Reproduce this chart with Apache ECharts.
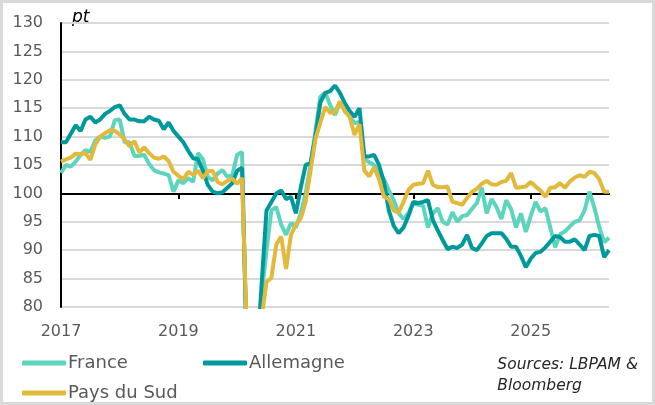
<!DOCTYPE html>
<html>
<head>
<meta charset="utf-8">
<script src="https://cdn.jsdelivr.net/npm/echarts@6/dist/echarts.min.js"></script>
<style>
  html, body { margin: 0; padding: 0; background: #fff; }
  #chart { width: 655px; height: 405px; }
</style>
</head>
<body>
<div id="chart"></div>
<script>
// monthly points, 2017-01 .. 2026-05
const months = []
for (let y = 2017; y <= 2026; y++) {
  for (let m = 1; m <= 12; m++) {
    if (y === 2026 && m > 5) break
    months.push(y + '-' + String(m).padStart(2, '0'))
  }
}

const france = [
  103.6, 105, 104.7, 105.6, 106.8, 107.6, 107.3, 109.3, 110, 109.8, 110, 112.9,
  113, 109, 109, 106.6, 106.6, 106.8, 105.2, 104.1, 103.7, 103.5, 103.2, 100.3,
  102.3, 101.8, 102.7, 102, 107.1, 106, 102.9, 102.3, 103.5, 104.1, 102.9, 103.2,
  106.8, 107.3, 70, 60, 70, 82, 90, 97, 97.6, 94.5, 92.7, 94.8,
  94, 96.5, 100, 105, 111, 117, 117.7, 115.6, 113.8, 116.1, 114.5, 113.5,
  112.4, 112.6, 106, 105.5, 105, 103.5, 102.5, 100.6, 98.8, 96.5, 95.5, 96.5,
  98.3, 98, 97.8, 94, 96.5, 97.4, 95, 94.5, 96.7, 95, 96, 96.2,
  97.3, 98.3, 101, 96.5, 99, 97.6, 95.5, 98.8, 97.2, 94, 96.5, 93.2,
  96, 98.5, 96.8, 97.4, 94, 90.5, 92.8, 93.3, 94.2, 95, 95.3, 97,
  100.3, 97.5, 94.1, 91.4, 92.2
]

const allemagne = [
  109, 109, 110.5, 112, 111, 113, 113.5, 112.5, 113, 114, 114.5, 115.2,
  115.5, 114, 113, 113, 112.7, 112.7, 113.5, 113, 112.8, 111.3, 112.5, 111,
  110, 109, 107.5, 106.2, 106, 104, 101.5, 100.3, 100, 100.2, 101, 101.8,
  104, 104.5, 72, 60, 70, 84, 97, 98.5, 100, 100.5, 99, 99.4,
  96.5, 101, 105, 105.3, 110, 116, 117.7, 118, 119, 117.7, 115.9, 114.5,
  113.5, 115, 106.5, 106.5, 106.8, 105, 102, 97, 94.3, 93, 94, 96,
  98.5, 98.3, 98.5, 98.8, 95.3, 93.5, 91.8, 90.2, 90.6, 90.4, 91, 92.7,
  90.4, 90, 91.2, 92.5, 93, 93, 93, 92, 90.6, 90.6, 89, 87,
  88.5, 89.5, 89.7, 90.5, 91.5, 92.5, 92.3, 91.5, 91.5, 91.9, 91, 90,
  92.5, 92.7, 92.5, 88.8, 90
]

const paysDuSud = [
  105.6, 106, 106.3, 107, 106.9, 107.1, 105.9, 108.6, 110, 110.6, 111.1, 111,
  110.4, 109.5, 108.3, 109.2, 107.2, 108.1, 107.1, 106.3, 106.1, 106.5, 105.7, 103.8,
  103.1, 102.5, 103.8, 103.3, 104, 102.7, 103.9, 104, 102, 101.6, 102.2, 102.6,
  101.7, 102.7, 75, 55, 70, 78, 84.4, 85.1, 91, 92.4, 86.7, 92.7,
  94.5, 95.6, 98.5, 104, 109.5, 112.5, 115.2, 114.2, 114.3, 116.2, 114.5, 113.5,
  110.3, 112.2, 104, 103, 104.6, 102.5, 99.4, 99, 97, 96.6, 98.5, 100.6,
  101.5, 101.7, 101.8, 104, 101.5, 101.1, 101.1, 101.2, 98.5, 98.3, 98, 99.2,
  100.3, 100.8, 101.7, 102.2, 101.6, 101.5, 102, 102.2, 103.6, 101, 101.1, 101.2,
  102, 101.2, 100.5, 99.4, 101, 101.1, 101.8, 101, 102.1, 102.8, 103.2, 102.9,
  103.8, 103.6, 102.5, 100.3, 100.3
]

const yearLabels = ['2017', '2019', '2021', '2023', '2025']

const FONT = 'DejaVu Sans'
const GREY_TEXT = '#595959'

const chart = echarts.init(document.getElementById('chart'))

const legendBase = {
  icon: 'roundRect',
  itemWidth: 44,
  itemHeight: 5,
  textStyle: { fontFamily: FONT, fontSize: 18, color: GREY_TEXT, padding: [0, 0, 0, -3] },
  selectedMode: false
}

chart.setOption({
  animation: false,
  backgroundColor: '#fff',
  grid: [
    { left: 61, right: 46, top: 23, bottom: 98 },
    // helper grid: its x axis line sits on the 100 level
    { left: 61, right: 46, top: 23, height: 171 }
  ],
  legend: [
    Object.assign({ data: ['France'], left: 17, top: 349 }, legendBase),
    Object.assign({ data: ['Allemagne'], left: 198, top: 349 }, legendBase),
    Object.assign({ data: ['Pays du Sud'], left: 17, top: 379 }, legendBase)
  ],
  xAxis: [
    {
      type: 'category',
      gridIndex: 0,
      data: months,
      boundaryGap: false,
      axisLine: { show: false },
      axisTick: { show: false },
      splitLine: { show: false },
      axisLabel: {
        interval: 23,
        margin: 17,
        fontFamily: FONT,
        fontSize: 16,
        color: GREY_TEXT,
        formatter: v => yearLabels.includes(v.slice(0, 4)) ? v.slice(0, 4) : ''
      }
    },
    {
      type: 'category',
      gridIndex: 1,
      data: months,
      boundaryGap: false,
      axisLine: { show: true, lineStyle: { color: '#000', width: 2 } },
      axisTick: { show: true, interval: 23, length: 5, lineStyle: { color: '#000', width: 2 } },
      axisLabel: { show: false },
      splitLine: { show: false }
    }
  ],
  yAxis: [
    {
      type: 'value',
      gridIndex: 0,
      min: 80,
      max: 130,
      interval: 5,
      axisLine: { show: true, lineStyle: { color: '#000', width: 2 } },
      axisTick: { show: false },
      axisLabel: { margin: 18, fontFamily: FONT, fontSize: 16, color: GREY_TEXT },
      splitLine: { lineStyle: { color: '#d9d9d9', width: 2 } }
    },
    { type: 'value', gridIndex: 1, show: false, min: 0, max: 1 }
  ],
  series: [
    {
      name: 'France', type: 'line', data: france,
      xAxisIndex: 0, yAxisIndex: 0,
      showSymbol: false, symbol: 'none',
      color: '#5dd5bd',
      lineStyle: { width: 4, color: '#5dd5bd' }
    },
    {
      name: 'Allemagne', type: 'line', data: allemagne,
      xAxisIndex: 0, yAxisIndex: 0,
      showSymbol: false, symbol: 'none',
      color: '#00999b',
      lineStyle: { width: 4, color: '#00999b' }
    },
    {
      name: 'Pays du Sud', type: 'line', data: paysDuSud,
      xAxisIndex: 0, yAxisIndex: 0,
      showSymbol: false, symbol: 'none',
      color: '#e2b93b',
      lineStyle: { width: 4, color: '#e2b93b' }
    }
  ],
  graphic: [
    {
      type: 'rect',
      shape: { x: 1.5, y: 1.5, width: 652, height: 402 },
      style: { fill: 'none', stroke: '#d9d9d9', lineWidth: 3 },
      silent: true
    },
    {
      type: 'text', left: 72, top: 9,
      style: { text: 'pt', font: 'italic 17px "DejaVu Sans"', fill: '#000' }
    },
    {
      type: 'text', right: 17, top: 354,
      style: {
        text: 'Sources: LBPAM &\nBloomberg',
        font: 'italic 15.5px "DejaVu Sans"',
        fill: '#262626',
        align: 'right',
        lineHeight: 21
      }
    }
  ]
})
</script>
</body>
</html>
